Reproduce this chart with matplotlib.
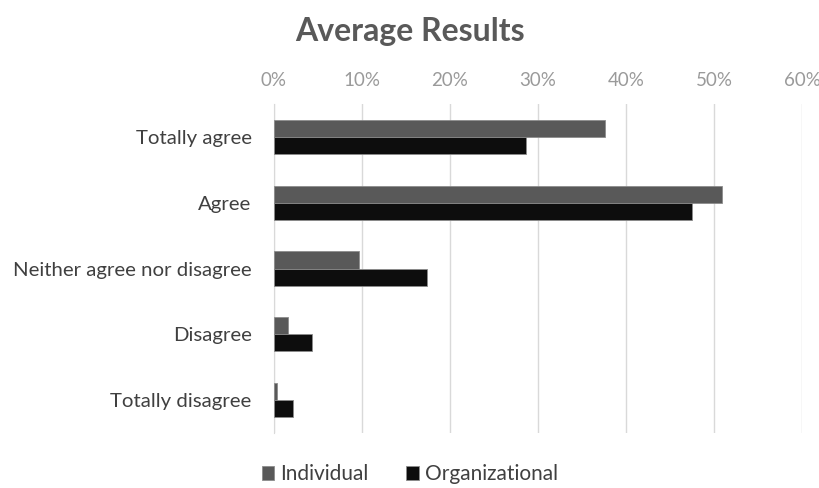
import matplotlib
matplotlib.use("Agg")
import matplotlib.pyplot as plt
from matplotlib.ticker import FuncFormatter

plt.rcParams['font.family'] = ['Lato', 'DejaVu Sans']

categories = ["Totally agree", "Agree", "Neither agree nor disagree", "Disagree", "Totally disagree"]
individual = [37.6, 50.9, 9.7, 1.6, 0.3]
organizational = [28.7, 47.5, 17.4, 4.3, 2.2]
x_ticks = [0, 10, 20, 30, 40, 50, 60]

fig = plt.figure(figsize=(8.2, 4.88), dpi=100)
ax = fig.add_axes([0.334, 0.1127, 0.644, 0.674])

n = len(categories)
pos = list(range(n))
h = 0.26
ax.barh([p - h / 2 for p in pos], individual, height=h, color="#595959",
        edgecolor="#8c8c8c", linewidth=0.6, label="Individual", zorder=3)
ax.barh([p + h / 2 for p in pos], organizational, height=h, color="#0d0d0d",
        edgecolor="#8c8c8c", linewidth=0.6, label="Organizational", zorder=3)

ax.set_ylim(n - 0.5, -0.5)
ax.set_xlim(0, 60)
ax.set_yticks(pos)
ax.set_yticklabels(categories, fontsize=14.7, color="#404040")
ax.set_xticks(x_ticks)
ax.xaxis.set_major_formatter(FuncFormatter(lambda v, _: f"{v:.0f}%"))
ax.xaxis.tick_top()
ax.tick_params(axis="x", length=0, pad=11, labelsize=13.5, labelcolor="#9a9a9a")
ax.tick_params(axis="y", length=0, pad=16)
ax.grid(axis="x", color="#d9d9d9", linewidth=1, zorder=0)
for s in ["top", "right", "bottom"]:
    ax.spines[s].set_visible(False)
ax.spines["left"].set_color("#d9d9d9")

fig.text(0.5, 0.935, "Average Results", ha="center", va="center",
         fontsize=23, fontweight="bold", color="#595959")

fig.legend(loc="center", bbox_to_anchor=(0.5, 0.028), ncol=2, frameon=False,
           fontsize=15, handlelength=0.6, handleheight=0.6, handletextpad=0.3,
           columnspacing=1.8, labelcolor="#404040")

fig.savefig("out.png", dpi=100, facecolor="white")
